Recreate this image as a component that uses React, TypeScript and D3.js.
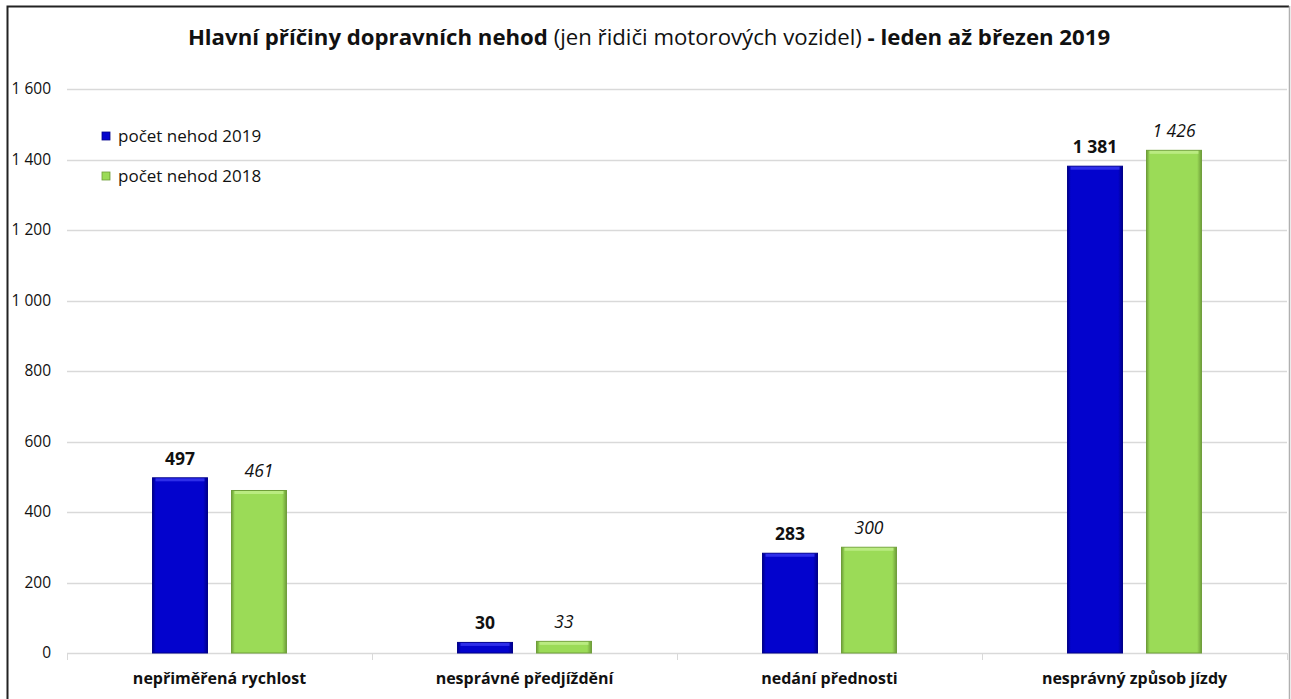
import { useEffect, useRef } from 'react';
import * as d3 from 'd3';

const categories = [
  'nepřiměřená rychlost',
  'nesprávné předjíždění',
  'nedání přednosti',
  'nesprávný způsob jízdy',
];
const series = ['počet nehod 2019', 'počet nehod 2018'];
const values2019 = [497, 30, 283, 1381];
const values2018 = [461, 33, 300, 1426];
const yTicks = [0, 200, 400, 600, 800, 1000, 1200, 1400, 1600];

const W = 1291;
const H = 699;
const FONT = '"Open Sans", "Noto Sans", sans-serif';

export default function App() {
  const svgRef = useRef<SVGSVGElement>(null);

  useEffect(() => {
    if (!svgRef.current) return;
    const svg = d3.select(svgRef.current);
    svg.selectAll('*').remove();

    const fmt = d3.formatLocale({
      decimal: ',',
      thousands: '\u00a0',
      grouping: [3],
      currency: ['', ' Kč'],
    }).format(',d');

    const margin = { top: 89, right: 4, bottom: 46, left: 67 };
    const x0 = d3
      .scaleBand()
      .domain(categories)
      .range([margin.left, W - margin.right])
      .padding(0);
    const x1 = d3
      .scaleBand()
      .domain(series)
      .range([0, x0.bandwidth()])
      .paddingInner(0.304)
      .paddingOuter(1.083);
    const y = d3
      .scaleLinear()
      .domain([0, 1600])
      .range([H - margin.bottom, margin.top]);

    const colors: Record<string, { fill: string; edge: string; light: string }> = {
      [series[0]]: { fill: '#0303cd', edge: '#00008a', light: '#3a3af0' },
      [series[1]]: { fill: '#9bdb57', edge: '#6f9e3a', light: '#c2ef8c' },
    };

    const defs = svg.append('defs');
    series.forEach((s, i) => {
      const g = defs
        .append('linearGradient')
        .attr('id', `bevel${i}`)
        .attr('x1', 0)
        .attr('x2', 1)
        .attr('y1', 0)
        .attr('y2', 0);
      g.append('stop').attr('offset', '0%').attr('stop-color', colors[s].edge);
      g.append('stop').attr('offset', '6%').attr('stop-color', colors[s].fill);
      g.append('stop').attr('offset', '92%').attr('stop-color', colors[s].fill);
      g.append('stop').attr('offset', '100%').attr('stop-color', colors[s].edge);
    });

    // frame
    svg
      .append('rect')
      .attr('x', 0)
      .attr('y', 0)
      .attr('width', W)
      .attr('height', H)
      .attr('fill', 'white');
    svg
      .append('path')
      .attr('d', `M7.5,${H}V6.5H1289`)
      .attr('fill', 'none')
      .attr('stroke', '#222')
      .attr('stroke-width', 2);
    svg
      .append('path')
      .attr('d', `M1289.5,6V${H}`)
      .attr('fill', 'none')
      .attr('stroke', '#b0b0b0')
      .attr('stroke-width', 1.5);

    // title
    const title = svg
      .append('text')
      .attr('x', 649)
      .attr('y', 45)
      .attr('text-anchor', 'middle')
      .attr('font-family', FONT)
      .attr('font-size', 22.2)
      .attr('fill', '#111');
    title.append('tspan').attr('font-weight', 'bold').text('Hlavní příčiny dopravních nehod');
    title.append('tspan').text(' (jen řidiči motorových vozidel) ');
    title.append('tspan').attr('font-weight', 'bold').text('- leden až březen 2019');

    // gridlines + y labels
    const grid = svg.append('g');
    grid
      .selectAll('line')
      .data(yTicks)
      .join('line')
      .attr('x1', margin.left)
      .attr('x2', W - margin.right)
      .attr('y1', (d) => Math.round(y(d)) + 0.5)
      .attr('y2', (d) => Math.round(y(d)) + 0.5)
      .attr('stroke', '#d9d9d9')
      .attr('stroke-width', 1.5);
    grid
      .selectAll('text')
      .data(yTicks)
      .join('text')
      .attr('x', 51)
      .attr('y', (d) => y(d) + 5)
      .attr('text-anchor', 'end')
      .attr('font-family', FONT)
      .attr('font-size', 15.5)
      .attr('fill', '#111')
      .text((d) => fmt(d));

    // category ticks
    const ticks = [...categories.map((c) => x0(c) as number), W - margin.right];
    svg
      .append('g')
      .selectAll('line')
      .data(ticks)
      .join('line')
      .attr('x1', (d) => Math.round(d) + 0.5)
      .attr('x2', (d) => Math.round(d) + 0.5)
      .attr('y1', y(0))
      .attr('y2', y(0) + 7)
      .attr('stroke', '#d9d9d9');

    svg
      .append('g')
      .selectAll('text')
      .data(categories)
      .join('text')
      .attr('x', (d) => (x0(d) as number) + x0.bandwidth() / 2)
      .attr('y', 684)
      .attr('text-anchor', 'middle')
      .attr('font-family', FONT)
      .attr('font-size', 16)
      .attr('font-weight', 'bold')
      .attr('fill', '#111')
      .text((d) => d);

    // bars
    const rows = categories.map((c, i) => ({
      cat: c,
      vals: [
        { s: series[0], v: values2019[i], idx: 0 },
        { s: series[1], v: values2018[i], idx: 1 },
      ],
    }));

    const grp = svg
      .append('g')
      .selectAll('g')
      .data(rows)
      .join('g')
      .attr('transform', (d) => `translate(${x0(d.cat)},0)`);

    const bar = grp
      .selectAll('g')
      .data((d) => d.vals)
      .join('g');

    bar
      .append('rect')
      .attr('x', (d) => x1(d.s) as number)
      .attr('y', (d) => y(d.v))
      .attr('width', x1.bandwidth())
      .attr('height', (d) => y(0) - y(d.v))
      .attr('fill', (d) => `url(#bevel${d.idx})`)
      .attr('stroke', (d) => colors[d.s].edge)
      .attr('stroke-width', 1);
    bar
      .append('rect')
      .attr('x', (d) => (x1(d.s) as number) + 3)
      .attr('y', (d) => y(d.v) + 0.5)
      .attr('width', x1.bandwidth() - 6)
      .attr('height', (d) => Math.min(3, y(0) - y(d.v) - 1))
      .attr('fill', (d) => colors[d.s].light)
      .attr('opacity', 0.8);

    bar
      .append('text')
      .attr('x', (d) => (x1(d.s) as number) + x1.bandwidth() / 2)
      .attr('y', (d) => y(d.v) - 13)
      .attr('text-anchor', 'middle')
      .attr('font-family', FONT)
      .attr('font-size', 17.5)
      .attr('font-weight', (d) => (d.idx === 0 ? 'bold' : 'normal'))
      .attr('font-style', (d) => (d.idx === 1 ? 'italic' : 'normal'))
      .attr('fill', '#111')
      .text((d) => fmt(d.v));

    // legend
    const leg = svg
      .append('g')
      .selectAll('g')
      .data(series)
      .join('g')
      .attr('transform', (d, i) => `translate(102,${132 + i * 40})`);
    leg
      .append('rect')
      .attr('width', 8)
      .attr('height', 8)
      .attr('fill', (d, i) => `url(#bevel${i})`)
      .attr('stroke', (d) => colors[d].edge)
      .attr('stroke-width', 0.8);
    leg
      .append('text')
      .attr('x', 16)
      .attr('y', 10)
      .attr('font-family', FONT)
      .attr('font-size', 17)
      .attr('fill', '#111')
      .text((d) => d);
  }, []);

  return (
    <svg
      ref={svgRef}
      width={W}
      height={H}
      style={{ position: 'absolute', left: 0, top: 0, display: 'block' }}
    />
  );
}
